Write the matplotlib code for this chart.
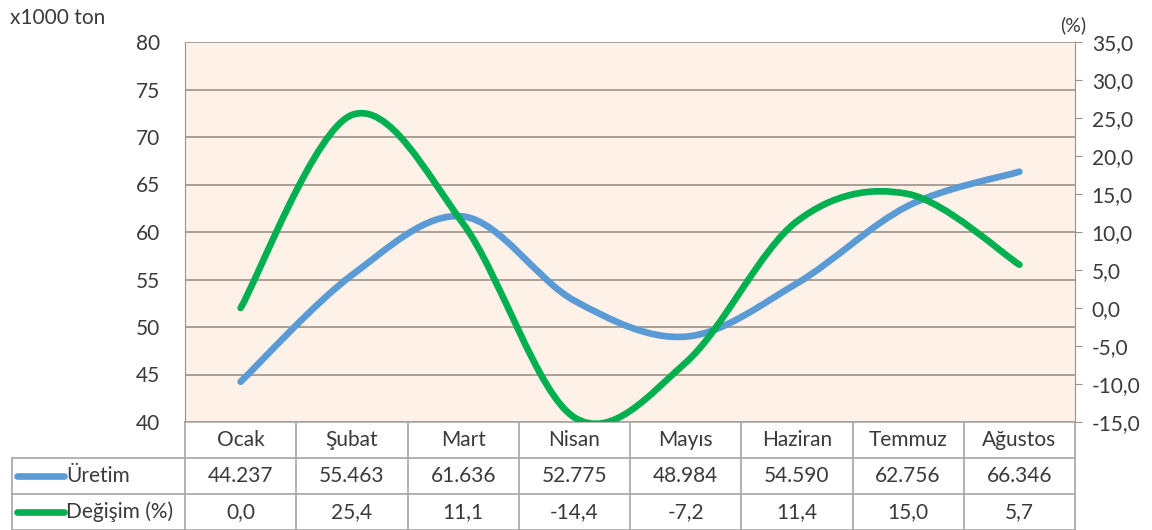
import matplotlib
matplotlib.use("Agg")
import matplotlib.pyplot as plt
from matplotlib.path import Path
from matplotlib.patches import PathPatch
from matplotlib.lines import Line2D
import numpy as np

months = ["Ocak", "Şubat", "Mart", "Nisan", "Mayıs", "Haziran", "Temmuz", "Ağustos"]
uretim = [44.237, 55.463, 61.636, 52.775, 48.984, 54.590, 62.756, 66.346]
degisim = [0.0, 25.4, 11.1, -14.4, -7.2, 11.4, 15.0, 5.7]
uretim_labels = ["44.237", "55.463", "61.636", "52.775", "48.984", "54.590", "62.756", "66.346"]
degisim_labels = ["0,0", "25,4", "11,1", "-14,4", "-7,2", "11,4", "15,0", "5,7"]
left_ticks = [40, 45, 50, 55, 60, 65, 70, 75, 80]
right_ticks = [-15, -10, -5, 0, 5, 10, 15, 20, 25, 30, 35]

BLUE = "#5B9BD5"
GREEN = "#00B050"
BG = "#FDF1E8"
GRID = "#9C9189"
TBL = "#A6A6A6"
TXT = "#3a3a3a"
FONT = "Lato"
FS = 15

plt.rcParams['font.family'] = [FONT, 'DejaVu Sans']

fig = plt.figure(figsize=(11.52, 5.30), dpi=100)
W, H = 1152, 530
x0, x1, y0, y1 = 185, 1075, 42, 422
ax = fig.add_axes([x0 / W, 1 - y1 / H, (x1 - x0) / W, (y1 - y0) / H])
ax2 = ax.twinx()
ax.set_facecolor(BG)
ax.set_zorder(0)
ax2.set_zorder(1)
ax2.patch.set_visible(False)


def smooth_path(xs, ys):
    pts = np.column_stack([xs, ys]).astype(float)
    n = len(pts)
    verts = [pts[0]]
    codes = [Path.MOVETO]
    for i in range(n - 1):
        p0 = pts[i - 1] if i > 0 else pts[i]
        p1 = pts[i]
        p2 = pts[i + 1]
        p3 = pts[i + 2] if i + 2 < n else pts[i + 1]
        c1 = p1 + (p2 - p0) / 6.0
        c2 = p2 - (p3 - p1) / 6.0
        verts += [c1, c2, p2]
        codes += [Path.CURVE4] * 3
    return Path(verts, codes)


xs = np.arange(len(months))
ax.set_xlim(-0.5, len(months) - 0.5)
ax.set_ylim(40, 80)
ax2.set_ylim(-15, 35)

for v in left_ticks:
    ax.axhline(v, color=GRID, lw=1.2, zorder=1)

p1 = PathPatch(smooth_path(xs, uretim), fill=False, edgecolor=BLUE, lw=4.8,
               capstyle='round', joinstyle='round', zorder=3)
ax.add_patch(p1)
p2 = PathPatch(smooth_path(xs, degisim), fill=False, edgecolor=GREEN, lw=4.8,
               capstyle='round', joinstyle='round', zorder=3)
ax2.add_patch(p2)

ax.set_xticks([])
ax.set_yticks(left_ticks)
ax.set_yticklabels([str(v) for v in left_ticks], fontsize=FS, color=TXT)
ax.tick_params(axis='y', length=0, pad=18)
ax2.set_yticks(right_ticks)
ax2.set_yticklabels([f"{v:.1f}".replace(".", ",") for v in right_ticks], fontsize=FS, color=TXT)
ax2.tick_params(axis='y', length=5, color=GRID, pad=7)

for a in (ax, ax2):
    for s in a.spines.values():
        s.set_visible(False)
ax.spines['left'].set_visible(True)
ax.spines['left'].set_color(GRID)
ax2.spines['right'].set_visible(True)
ax2.spines['right'].set_color(GRID)

# Data table below the plot
row_h = 36 / (y1 - y0)
lx = (12 - x0) / (x1 - x0) * len(months) - 0.5
tr = ax.get_xaxis_transform()
kw = dict(transform=tr, clip_on=False, color=TBL, lw=1.2)
ax.add_line(Line2D([-0.5, len(months) - 0.5], [0, 0], **kw))
for k in (1, 2, 3):
    ax.add_line(Line2D([lx, len(months) - 0.5], [-k * row_h, -k * row_h], **kw))
for b in np.arange(len(months) + 1) - 0.5:
    ax.add_line(Line2D([b, b], [0, -3 * row_h], **kw))
ax.add_line(Line2D([lx, lx], [-row_h, -3 * row_h], **kw))

for i, m in enumerate(months):
    ax.text(i, -0.5 * row_h, m, transform=tr, ha='center', va='center', fontsize=FS, color=TXT)
    ax.text(i, -1.5 * row_h, uretim_labels[i], transform=tr, ha='center', va='center', fontsize=FS, color=TXT)
    ax.text(i, -2.5 * row_h, degisim_labels[i], transform=tr, ha='center', va='center', fontsize=FS, color=TXT)

unit = len(months) / (x1 - x0)
for k, (name, col) in enumerate([("Üretim", BLUE), ("Değişim (%)", GREEN)]):
    yy = -(1.5 + k) * row_h
    xa = -0.5 + (17 - x0) * unit
    xb = -0.5 + (64 - x0) * unit
    ax.add_line(Line2D([xa, xb], [yy, yy], transform=tr, clip_on=False, color=col, lw=4.8,
                       solid_capstyle='round'))
    ax.text(-0.5 + (66 - x0) * unit, yy, name, transform=tr, ha='left', va='center',
            fontsize=FS, color=TXT)

fig.text(10 / W, 1 - 18 / H, "x1000 ton", ha='left', va='center', fontsize=FS, color=TXT)
fig.text(1086 / W, 1 - 25 / H, "(%)", ha='right', va='center', fontsize=FS - 1, color=TXT)

fig.savefig("out.png", dpi=100, facecolor="white")
